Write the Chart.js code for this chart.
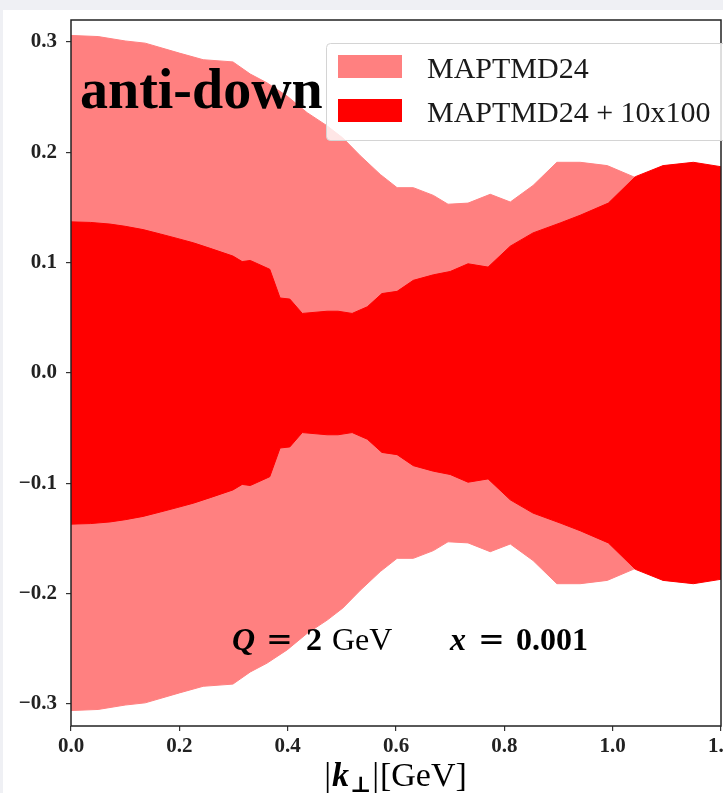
<!DOCTYPE html>
<html>
<head>
<meta charset="utf-8">
<script src="https://cdn.jsdelivr.net/npm/chart.js@4.4.1/dist/chart.umd.min.js"></script>
<style>
	html, body { margin: 0; padding: 0; background: #eff0f4; }
	#wrap { width: 723px; height: 793px; }
</style>
</head>
<body>
<div id="wrap"><canvas id="chart" width="723" height="793"></canvas></div>
<script>
// band of MAPTMD24 (light)
const lightKt = [0.0, 0.05, 0.1, 0.137, 0.2, 0.244, 0.299, 0.331, 0.362, 0.399, 0.436, 0.473, 0.502, 0.534, 0.571, 0.602, 0.632, 0.669, 0.696, 0.733, 0.774, 0.811, 0.853, 0.897, 0.94, 0.99, 1.038, 1.1, 1.2]
const lightUp = [0.306, 0.305, 0.301, 0.299, 0.290, 0.284, 0.282, 0.271, 0.263, 0.251, 0.236, 0.224, 0.213, 0.197, 0.180, 0.168, 0.168, 0.161, 0.153, 0.154, 0.162, 0.155, 0.170, 0.191, 0.191, 0.188, 0.178, 0.170, 0.160]
const lightLow = [-0.306, -0.305, -0.301, -0.299, -0.290, -0.284, -0.282, -0.271, -0.263, -0.251, -0.236, -0.224, -0.213, -0.197, -0.180, -0.168, -0.168, -0.161, -0.153, -0.154, -0.162, -0.155, -0.170, -0.191, -0.191, -0.188, -0.178, -0.170, -0.160]

// band of MAPTMD24 + 10x100 (dark)
const darkKt = [0.0, 0.036, 0.072, 0.1, 0.133, 0.165, 0.196, 0.226, 0.257, 0.299, 0.316, 0.331, 0.367, 0.386, 0.404, 0.427, 0.473, 0.493, 0.519, 0.547, 0.574, 0.602, 0.632, 0.669, 0.700, 0.733, 0.770, 0.811, 0.853, 0.903, 0.940, 0.992, 1.042, 1.093, 1.149, 1.2]
const darkUp = [0.137, 0.1365, 0.135, 0.133, 0.130, 0.126, 0.122, 0.118, 0.113, 0.106, 0.101, 0.102, 0.094, 0.068, 0.067, 0.054, 0.056, 0.056, 0.054, 0.060, 0.072, 0.074, 0.084, 0.089, 0.092, 0.099, 0.096, 0.115, 0.127, 0.136, 0.143, 0.154, 0.178, 0.188, 0.191, 0.187]
const darkLow = [-0.137, -0.1365, -0.135, -0.133, -0.130, -0.126, -0.122, -0.118, -0.113, -0.106, -0.101, -0.102, -0.094, -0.068, -0.067, -0.054, -0.056, -0.056, -0.054, -0.060, -0.072, -0.074, -0.084, -0.089, -0.092, -0.099, -0.096, -0.115, -0.127, -0.136, -0.143, -0.154, -0.178, -0.188, -0.191, -0.187]

const seriesNames = ['MAPTMD24', 'MAPTMD24 + 10x100']
const xTicks = [0.0, 0.2, 0.4, 0.6, 0.8, 1.0, 1.2]
const yTicks = [-0.3, -0.2, -0.1, 0.0, 0.1, 0.2, 0.3]

const LIGHT = '#ff8080'
const DARK = '#ff0000'
const SERIF = '"Liberation Serif", "DejaVu Serif", serif'

function pts(xs, ys) {
	return xs.map((x, i) => ({ x: x, y: ys[i] }))
}
function fmt(v) {
	return (v < -1e-9 ? '\u2212' : '') + Math.abs(v).toFixed(1)
}

function band(label, xs, up, low, color, order) {
	return [{
		label: label,
		data: pts(xs, up),
		fill: '+1',
		backgroundColor: color,
		borderColor: color,
		borderWidth: 1,
		pointRadius: 0,
		order: order
	}, {
		label: label + ' low',
		data: pts(xs, low),
		fill: false,
		backgroundColor: color,
		borderColor: color,
		borderWidth: 1,
		pointRadius: 0,
		order: order
	}]
}

// figure background, spines, texts and legend
const decor = {
	id: 'decor',
	beforeDraw(chart) {
		const c = chart.ctx
		c.save()
		c.fillStyle = '#eff0f4'
		c.fillRect(0, 0, chart.width, chart.height)
		c.fillStyle = '#ffffff'
		c.fillRect(3, 10, chart.width - 3, chart.height - 10)
		c.restore()
	},
	afterDraw(chart) {
		const c = chart.ctx
		const a = chart.chartArea
		c.save()
		c.strokeStyle = '#222'
		c.lineWidth = 1.5
		c.strokeRect(a.left, a.top, a.right - a.left, a.bottom - a.top)

		// legend
		c.beginPath()
		c.roundRect(326.5, 43.5, 420, 97, 4)
		c.fillStyle = 'rgba(255,255,255,0.8)'
		c.fill()
		c.strokeStyle = '#d4d4d4'
		c.lineWidth = 1
		c.stroke()
		const cols = [LIGHT, DARK]
		seriesNames.forEach((name, i) => {
			const y = 55 + i * 44
			c.fillStyle = cols[i]
			c.fillRect(338, y, 64, 23)
			c.fillStyle = '#1a1a1a'
			c.font = '30px ' + SERIF
			c.textBaseline = 'alphabetic'
			c.fillText(name, 427, y + 23)
		})

		// anti-down
		c.fillStyle = '#000'
		c.font = 'bold 56px ' + SERIF
		c.fillText('anti-down', 80, 108)

		// Q = 2 GeV   x = 0.001
		const SANS = '"DejaVu Sans", sans-serif'
		const parts = [
			['Q', 'italic bold 32px ' + SERIF, 232],
			['=', '32px ' + SANS, 266],
			['2', 'bold 32px ' + SERIF, 306],
			['GeV', '32px ' + SERIF, 332],
			['x', 'italic bold 32px ' + SERIF, 450],
			['=', '32px ' + SANS, 478],
			['0.001', 'bold 32px ' + SERIF, 516]
		]
		parts.forEach(p => {
			c.font = p[1]
			c.fillText(p[0], p[2], 650)
		})

		// x axis title |k_perp|[GeV]
		const tp = [
			['|', '34px', 0],
			['k', 'italic bold 34px', 0],
			['\u22a5', 'bold 22px', 6],
			['|', '34px', 0],
			['[GeV]', '34px', 0]
		]
		let w = 0
		tp.forEach(p => { c.font = p[1] + ' ' + SERIF; w += c.measureText(p[0]).width + 1 })
		let x = (a.left + a.right) / 2 - w / 2
		tp.forEach(p => {
			c.font = p[1] + ' ' + SERIF
			c.fillText(p[0], x, 786 + p[2])
			x += c.measureText(p[0]).width + 1
		})
		c.restore()
	}
}

const tickFont = { family: SERIF, size: 21, weight: 'bold' }

new Chart(document.getElementById('chart'), {
	type: 'line',
	data: {
		datasets: [
			...band(seriesNames[0], lightKt, lightUp, lightLow, LIGHT, 2),
			...band(seriesNames[1], darkKt, darkUp, darkLow, DARK, 1)
		]
	},
	options: {
		responsive: false,
		animation: false,
		events: [],
		layout: { padding: { top: 20, right: 2, left: 0, bottom: 0 } },
		plugins: {
			legend: { display: false },
			tooltip: { enabled: false }
		},
		scales: {
			x: {
				type: 'linear',
				min: 0,
				max: 1.2,
				afterBuildTicks: s => { s.ticks = xTicks.map(v => ({ value: v })) },
				afterFit: s => { s.height = 67; s.paddingLeft = 0; s.paddingRight = 0 },
				ticks: {
					font: tickFont,
					color: '#222',
					padding: 3,
					maxRotation: 0,
					autoSkip: false,
					callback: v => fmt(v)
				},
				grid: { drawOnChartArea: false, tickLength: 5, color: '#333', lineWidth: 1.2 },
				border: { display: false }
			},
			y: {
				min: -0.32,
				max: 0.32,
				afterBuildTicks: s => { s.ticks = yTicks.map(v => ({ value: v })) },
				afterFit: s => { s.width = 71; s.paddingTop = 0; s.paddingBottom = 0 },
				ticks: {
					font: tickFont,
					color: '#222',
					padding: 9,
					autoSkip: false,
					callback: v => fmt(v)
				},
				grid: { drawOnChartArea: false, tickLength: 5, color: '#333', lineWidth: 1.2 },
				border: { display: false }
			}
		}
	},
	plugins: [decor]
})
</script>
</body>
</html>
